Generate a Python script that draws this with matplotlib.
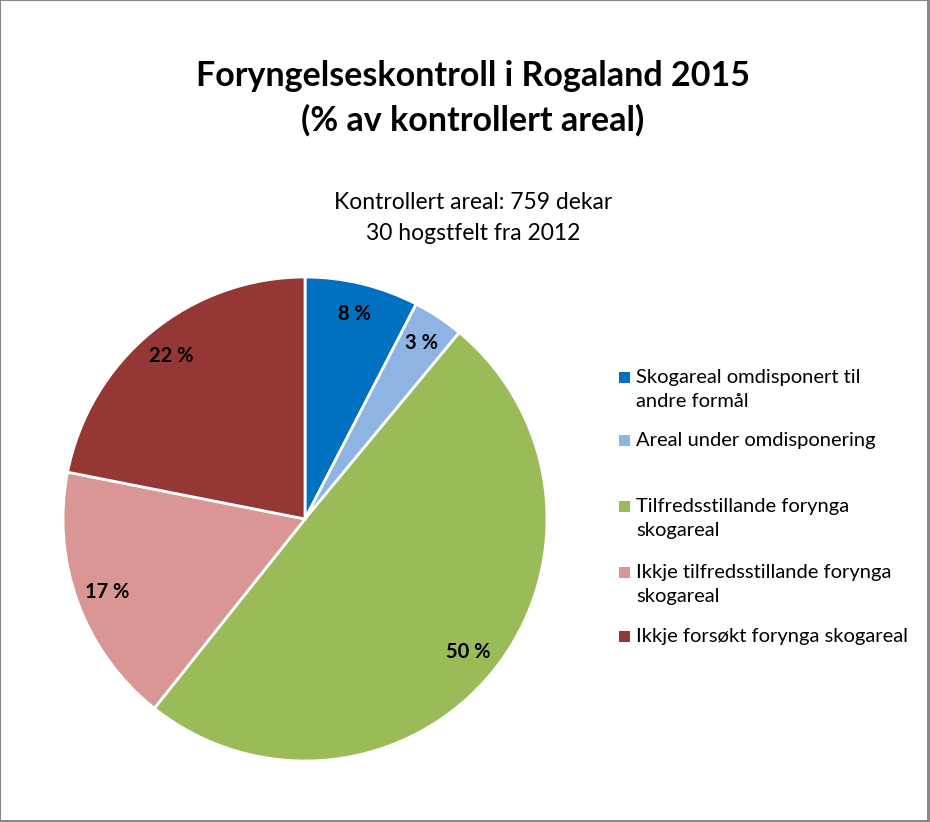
import matplotlib
matplotlib.use("Agg")
import matplotlib.pyplot as plt
from matplotlib.patches import Rectangle

plt.rcParams['font.family'] = ['Lato', 'DejaVu Sans']

# data
categories = [
    "Skogareal omdisponert til\nandre formål",
    "Areal under omdisponering",
    "Tilfredsstillande forynga\nskogareal",
    "Ikkje tilfredsstillande forynga\nskogareal",
    "Ikkje forsøkt forynga skogareal",
]
shares = [7.6, 3.4, 49.7, 17.4, 21.9]
colors = ["#0070C0", "#8DB4E2", "#9BBB59", "#D99694", "#953735"]

title = "Foryngelseskontroll i Rogaland 2015\n(% av kontrollert areal)"
subtitle = "Kontrollert areal: 759 dekar\n30 hogstfelt fra 2012"

W, H = 930, 822
fig = plt.figure(figsize=(W / 100, H / 100), dpi=100)

# pie axes placed in pixel coords
cx, cy, r = 305, 519, 242
ax = fig.add_axes([(cx - r) / W, 1 - (cy + r) / H, 2 * r / W, 2 * r / H])
wedges, texts, autotexts = ax.pie(
    shares, colors=colors, startangle=90, counterclock=False, radius=1,
    autopct=lambda p: f"{round(p)} %", pctdistance=0.87,
    wedgeprops=dict(edgecolor="white", linewidth=2),
    textprops=dict(fontsize=14.5, fontweight="bold", color="black"),
)
ax.set_xlim(-1, 1)
ax.set_ylim(-1, 1)
ax.set_aspect("equal")
ax.axis("off")

fig.text(473 / W, 1 - 98 / H, title, ha="center", va="center",
         fontsize=24.5, fontweight="bold", linespacing=1.45)
fig.text(473 / W, 1 - 218 / H, subtitle, ha="center", va="center",
         fontsize=16.5, linespacing=1.55)

# legend entries (manual to keep the excel spacing)
first_line = [377, 440, 506, 572, 636]
line_h = 25
for lab, col, y0 in zip(categories, colors, first_line):
    n = lab.count("\n") + 1
    yc = y0 + (n - 1) * line_h / 2
    fig.patches.append(Rectangle((619 / W, 1 - (y0 + 6) / H), 11 / W, 11 / H,
                                 transform=fig.transFigure, facecolor=col,
                                 edgecolor="none"))
    fig.text(636 / W, 1 - yc / H, lab, ha="left", va="center",
             fontsize=14.5, linespacing=1.52)

# outer frame
fig.patches.append(Rectangle((0, 0), 1, 1, transform=fig.transFigure,
                             fill=False, edgecolor="#888888", linewidth=1.5))
fig.patches.append(Rectangle((927 / W, 0), 3 / W, 1, transform=fig.transFigure,
                             facecolor="#888888", edgecolor="none"))
fig.patches.append(Rectangle((0, 0), 1, 2 / H, transform=fig.transFigure,
                             facecolor="#888888", edgecolor="none"))

fig.savefig("out.png", dpi=100)
